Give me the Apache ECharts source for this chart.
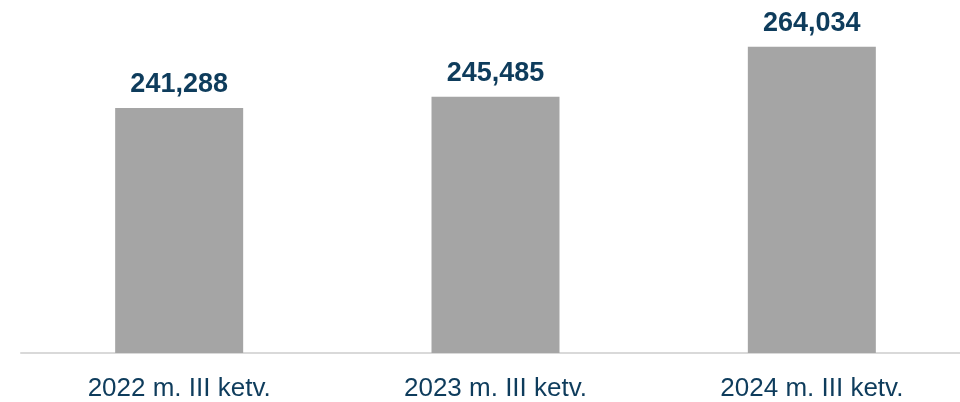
<!DOCTYPE html>
<html>
<head>
<meta charset="utf-8">
<script src="https://cdn.jsdelivr.net/npm/echarts@6/dist/echarts.min.js"></script>
<style>html,body{margin:0;padding:0;background:#fff}#c{width:960px;height:402px}</style>
</head>
<body>
<div id="c"></div>
<script>
var categories = ['2022 m. III ketv.', '2023 m. III ketv.', '2024 m. III ketv.'];
var values = [241.288, 245.485, 264.034];

var chart = echarts.init(document.getElementById('c'));
chart.setOption({
  animation: false,
  grid: { left: 21, width: 949, top: 4, bottom: 49, containLabel: false, outerBoundsMode: 'none' },
  xAxis: {
    type: 'category',
    data: categories,
    axisLine: { lineStyle: { color: '#d9d9d9', width: 2 } },
    axisTick: { show: false },
    axisLabel: { color: '#0e3c5c', fontFamily: 'Liberation Sans, Arial', fontSize: 26, margin: 23 }
  },
  yAxis: {
    type: 'value', min: 150, max: 280, show: false,
    splitLine: { show: false }
  },
  series: [{
    type: 'bar',
    data: values,
    barWidth: 128,
    itemStyle: { color: '#a5a5a5' },
    label: {
      show: true, position: 'top', distance: 10,
      color: '#0e3c5c', fontFamily: 'Liberation Sans, Arial', fontSize: 27, fontWeight: 'bold',
      formatter: function (p) { return p.value.toFixed(3).replace('.', ','); }
    }
  }]
});
</script>
</body>
</html>
